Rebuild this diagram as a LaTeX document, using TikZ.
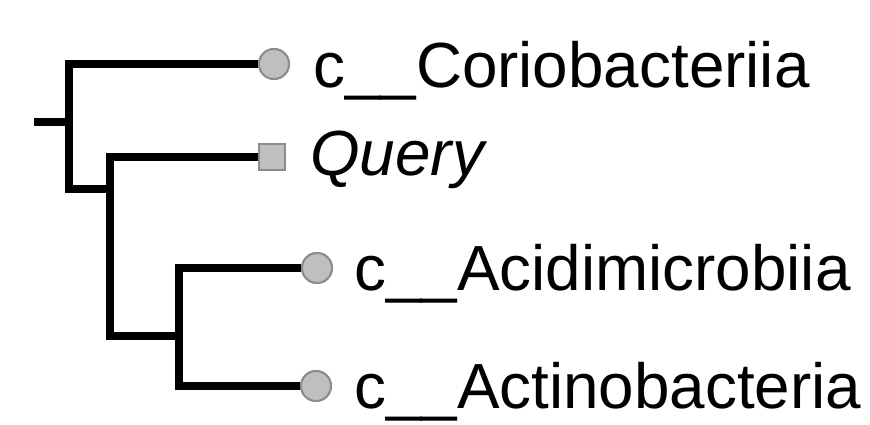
\documentclass[tikz,border=0pt]{standalone}
\usepackage{fontspec}
\setmainfont{Liberation Sans}
\begin{document}
\begin{tikzpicture}[x=1pt,y=1pt,
  branch/.style={line width=8pt, line join=miter, line cap=butt, black},
  leafc/.style={circle, fill=black!25, draw=black!45, line width=2pt, minimum size=30pt, inner sep=0pt},
  leafs/.style={rectangle, fill=black!25, draw=black!45, line width=2pt, minimum size=26pt, inner sep=0pt},
  lab/.style={anchor=base west, inner sep=0pt, font=\fontsize{63.8}{70}\selectfont}]
\useasboundingbox (0,0) rectangle (870,-424);
\coordinate (root) at (34,-122);
\coordinate (n1) at (69,-122);
\coordinate (n2) at (110,-189);
\coordinate (n3) at (179,-336);
\node[leafc] (c1) at (274,-64) {};
\node[leafs] (q) at (272,-157) {};
\node[leafc] (a1) at (317,-268) {};
\node[leafc] (a2) at (316,-386) {};
\draw[branch] (root) -- (n1);
\draw[branch] (c1) -| (n1) |- (n2);
\draw[branch] (q) -| (n2) |- (n3);
\draw[branch] (a1) -| (n3) |- (a2);
\node[leafc] at (c1) {};
\node[leafs] at (q) {};
\node[leafc] at (a1) {};
\node[leafc] at (a2) {};
\node[lab] (t1) at (313,-87) {c\_\_Coriobacteriia};
\node[lab] (t2) at (310,-175) {\itshape Query};
\node[lab] (t3) at (354,-290) {c\_\_Acidimicrobiia};
\node[lab] (t4) at (354,-408) {c\_\_Actinobacteria};
\end{tikzpicture}
\end{document}
